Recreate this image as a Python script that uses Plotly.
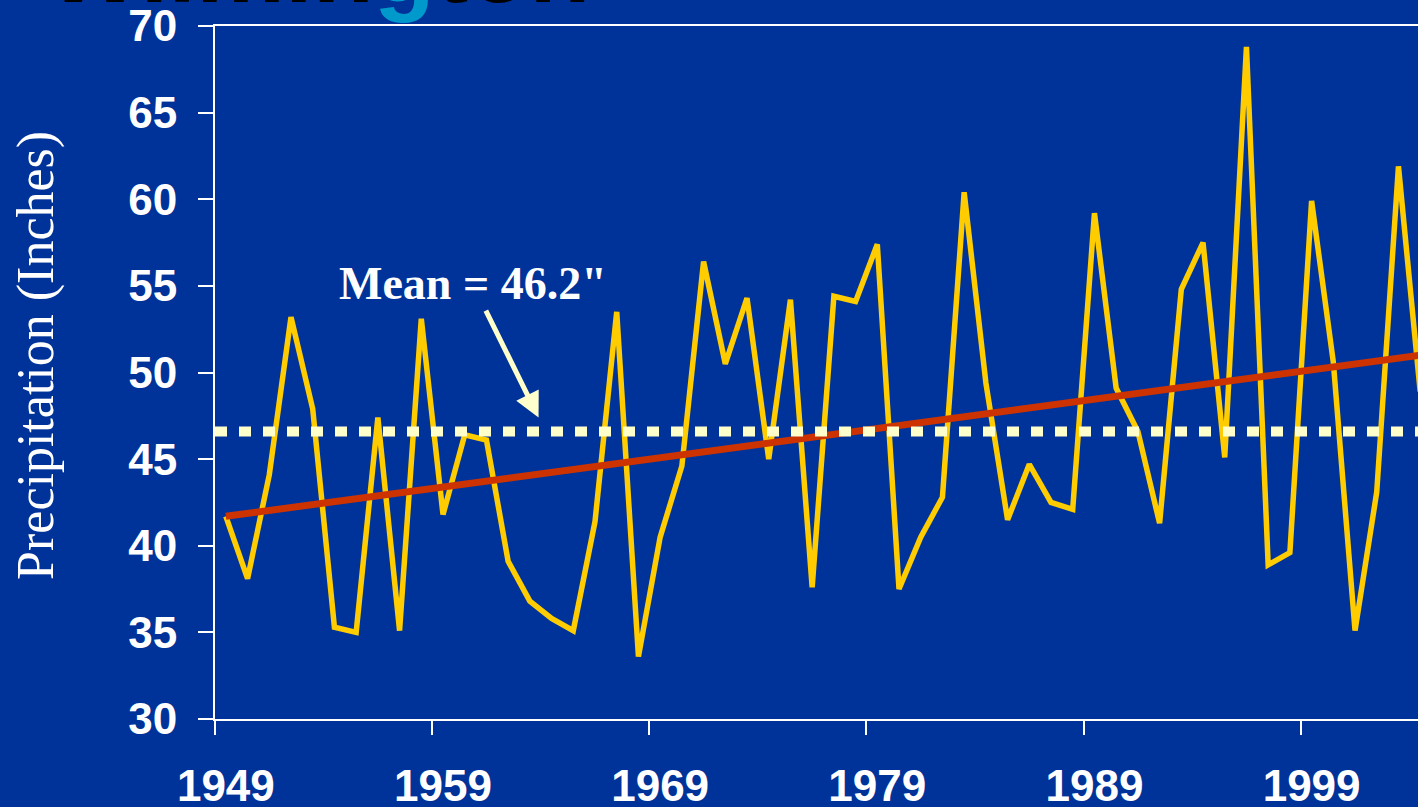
"""Wilmington annual precipitation with trend and mean line."""

import plotly.graph_objects as go

BG = "#003399"
YELLOW = "#FFCC00"
RED = "#CC3300"
CREAM = "#FFFFCC"

years = list(range(1949, 2005))
precip = [41.7, 38.1, 44.1, 53.2, 47.9, 35.3, 35.0, 47.4, 35.1, 53.1,
          41.8, 46.4, 46.1, 39.1, 36.8, 35.8, 35.1, 41.4, 53.5, 33.6,
          40.5, 44.6, 56.4, 50.5, 54.3, 45.0, 54.2, 37.6, 54.4, 54.1,
          57.4, 37.5, 40.5, 42.8, 60.4, 49.4, 41.5, 44.7, 42.5, 42.1,
          59.2, 49.1, 46.6, 41.3, 54.8, 57.5, 45.1, 68.8, 38.9, 39.6,
          59.9, 50.6, 35.1, 43.1, 61.9, 48.9]

trend_years = [1949, 2004]
trend_vals = [41.7, 51.0]

mean_years = [1948.5, 2004.5]
mean_val = 46.6

label_years = [1949, 1959, 1969, 1979, 1989, 1999]
boundary_years = [1948.5, 1958.5, 1968.5, 1978.5, 1988.5, 1998.5]
y_ticks = [30, 35, 40, 45, 50, 55, 60, 65, 70]

X_RANGE = [1948.5, 2003.9]
Y_RANGE = [30, 70]

TICK_FONT = dict(family="Liberation Sans, Arial", size=44, color="white", weight="bold")

fig = go.Figure()
fig.add_trace(go.Scatter(x=years, y=precip, mode="lines",
                         line=dict(color=YELLOW, width=5.5), showlegend=False))
fig.add_trace(go.Scatter(x=trend_years, y=trend_vals, mode="lines",
                         line=dict(color=RED, width=7), showlegend=False))
fig.add_trace(go.Scatter(x=mean_years, y=[mean_val, mean_val], mode="lines",
                         line=dict(color=CREAM, width=10, dash="12px,12px"),
                         showlegend=False))

fig.update_layout(
    width=1418, height=807,
    margin=dict(l=215, r=0, t=26, b=88),
    paper_bgcolor=BG, plot_bgcolor=BG,
    xaxis=dict(range=X_RANGE, tickmode="array", tickvals=label_years,
               ticktext=[str(y) for y in label_years], ticks="",
               ticklabelstandoff=27, tickfont=TICK_FONT, automargin=False,
               minor=dict(tickmode="array", tickvals=boundary_years, ticks="outside",
                          ticklen=14, tickwidth=1.5, tickcolor="white"),
               showline=True, linecolor="white", linewidth=2, mirror=True,
               showgrid=False, zeroline=False),
    xaxis2=dict(range=X_RANGE, overlaying="x", anchor="y", tickmode="array",
                tickvals=boundary_years, ticks="inside", ticklen=14, tickwidth=1.5,
                tickcolor="white", showticklabels=False, showline=False,
                showgrid=False, zeroline=False, automargin=False),
    yaxis=dict(range=Y_RANGE, tickmode="array", tickvals=y_ticks, ticks="outside",
               ticklen=15, tickwidth=1.5, tickcolor="white", ticklabelstandoff=12,
               tickfont=TICK_FONT, showline=True, linecolor="white", linewidth=2,
               showgrid=False, zeroline=False, automargin=False),
    yaxis2=dict(range=Y_RANGE, overlaying="y", anchor="x", side="left",
                tickmode="array", tickvals=y_ticks, ticks="inside", ticklen=15,
                tickwidth=1.5, tickcolor="white", showticklabels=False,
                showline=False, showgrid=False, zeroline=False, automargin=False),
)

# y-axis title, placed like the slide's text box
fig.add_annotation(text="Precipitation (Inches)", xref="paper", yref="paper",
                   x=-0.149, y=0.525, xanchor="center", yanchor="middle",
                   textangle=-90, showarrow=False,
                   font=dict(family="Liberation Serif, Times New Roman", size=52,
                             color="white"))

# mean label with arrow
fig.add_annotation(text="Mean = 46.2\"", x=1963.4, y=47.4, ax=-66, ay=-134,
                   showarrow=True, arrowhead=2, arrowsize=1, arrowwidth=5,
                   arrowcolor=CREAM,
                   font=dict(family="Liberation Serif, Times New Roman", size=46,
                             color="white", weight="bold"))

# slide title, mostly cut off at the top edge
fig.add_annotation(text="<b>Wilmin<span style='color:#0099CC'>g</span>ton</b>",
                   xref="paper", yref="paper", x=-0.141, y=1, xanchor="left",
                   yanchor="bottom", yshift=1, showarrow=False,
                   font=dict(family="Liberation Sans, Arial", size=100, color="black"))

fig.write_html("out.html", config={"displayModeBar": False},
               post_script="document.body.style.margin='0';"
                           "document.body.style.overflow='hidden';")
